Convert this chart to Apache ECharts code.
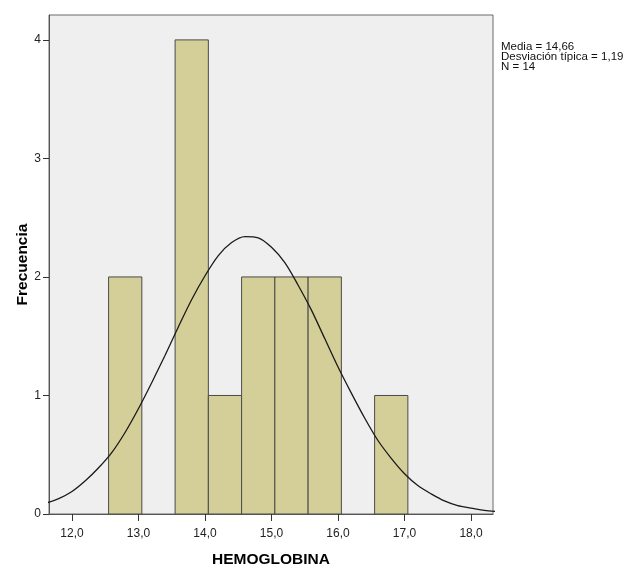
<!DOCTYPE html>
<html>
<head>
<meta charset="utf-8">
<script src="https://cdn.jsdelivr.net/npm/echarts@6/dist/echarts.min.js"></script>
<style>
html,body{margin:0;padding:0;background:#ffffff;}
#chart{width:625px;height:570px;}
</style>
</head>
<body>
<div id="chart"></div>
<script>
// Histogram bins (HEMOGLOBINA) and frequencies
var binStarts = [12.55, 13.55, 14.05, 14.55, 15.05, 15.55, 16.55];
var binEnds   = [13.05, 14.05, 14.55, 15.05, 15.55, 16.05, 17.05];
var counts    = [2, 4, 1, 2, 2, 2, 1];

// Normal curve (x, frecuencia)
var curveX = [11.6, 11.8, 12.0, 12.2, 12.4, 12.6, 12.8, 13.0, 13.2, 13.4, 13.6, 13.8, 14.0, 14.2, 14.4, 14.6, 14.8, 15.0, 15.2, 15.4, 15.6, 15.8, 16.0, 16.2, 16.4, 16.6, 16.8, 17.0, 17.2, 17.4, 17.6, 17.8, 18.0, 18.2, 18.4];
var curveY = [0.09, 0.13, 0.19, 0.28, 0.39, 0.52, 0.69, 0.89, 1.11, 1.34, 1.58, 1.81, 2.01, 2.18, 2.29, 2.34, 2.33, 2.25, 2.12, 1.93, 1.72, 1.48, 1.24, 1.02, 0.81, 0.62, 0.47, 0.34, 0.24, 0.17, 0.11, 0.07, 0.05, 0.03, 0.02];

// Tick labels
var xTicks = [12, 13, 14, 15, 16, 17, 18];
var yTicks = [0, 1, 2, 3, 4];

var statsLines = ['Media = 14,66', 'Desviación típica = 1,19', 'N = 14'];

var barData = binStarts.map(function (s, i) { return [s, binEnds[i], counts[i]]; });
var lineData = curveX.map(function (x, i) { return [x, curveY[i]]; });

var chart = echarts.init(document.getElementById('chart'), null, {renderer: 'canvas'});
var font = 'Arial, "Liberation Sans", sans-serif';

chart.setOption({
  animation: false,
  backgroundColor: '#ffffff',
  grid: {
    left: 49, top: 15, right: 132, bottom: 56,
    containLabel: false, outerBoundsMode: 'none',
    show: true, backgroundColor: '#efefef', borderColor: '#6a6a6a', borderWidth: 1
  },
  xAxis: {
    type: 'value', min: 11.654, max: 18.33,
    name: 'HEMOGLOBINA', nameLocation: 'middle', nameGap: 38, nameMoveOverlap: false,
    nameTextStyle: {fontFamily: font, fontSize: 15.5, fontWeight: 'bold', color: '#000'},
    axisLine: {show: true, onZero: false, lineStyle: {color: '#555', width: 1}},
    axisTick: {show: true, length: 7, customValues: xTicks, lineStyle: {color: '#333'}},
    axisLabel: {customValues: xTicks, margin: 14, fontFamily: font, fontSize: 12, color: '#222',
      formatter: function (v) { return v.toFixed(1).replace('.', ','); }},
    splitLine: {show: false}
  },
  yAxis: {
    type: 'value', min: 0, max: 4.21,
    name: 'Frecuencia', nameLocation: 'middle', nameGap: 18, nameMoveOverlap: false,
    nameTextStyle: {fontFamily: font, fontSize: 15.5, fontWeight: 'bold', color: '#000'},
    axisLine: {show: true, lineStyle: {color: '#555', width: 1}},
    axisTick: {show: true, length: 6, customValues: yTicks, lineStyle: {color: '#333'}},
    axisLabel: {customValues: yTicks, margin: 8, fontFamily: font, fontSize: 12, color: '#222'},
    splitLine: {show: false}
  },
  graphic: [{
    type: 'text', left: 501, top: 41,
    style: {text: statsLines.join('\n'), font: '11.5px ' + font, fill: '#111', lineHeight: 10}
  }],
  series: [{
    type: 'custom',
    data: barData,
    encode: {x: [0, 1], y: 2},
    clip: true,
    renderItem: function (params, api) {
      var p0 = api.coord([api.value(0), api.value(2)]);
      var p1 = api.coord([api.value(1), 0]);
      return {
        type: 'rect',
        shape: {x: p0[0], y: p0[1], width: p1[0] - p0[0], height: p1[1] - p0[1]},
        style: {fill: '#d4cf98', stroke: '#4a4a4a', lineWidth: 1}
      };
    }
  }, {
    type: 'line',
    data: lineData,
    smooth: 0.3,
    showSymbol: false,
    clip: true,
    lineStyle: {color: '#1a1a1a', width: 1.3}
  }]
});
</script>
</body>
</html>
